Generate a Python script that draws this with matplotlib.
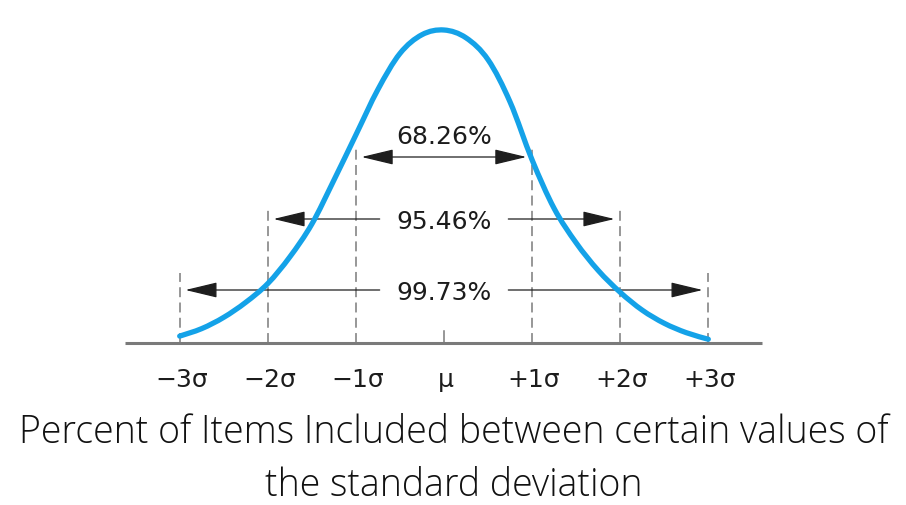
import matplotlib
matplotlib.use("Agg")
import matplotlib.pyplot as plt
from matplotlib.patches import FancyArrowPatch, PathPatch
from matplotlib.path import Path

# ---------------- data ----------------
# curve positions (in sigma units) and relative heights
curve_x = [-3.0, -2.75, -2.5, -2.25, -2.0, -1.75, -1.5, -1.25, -1.0, -0.75, -0.5, -0.25,
           0.0, 0.25, 0.5, 0.75, 1.0, 1.25, 1.5, 1.75, 2.0, 2.25, 2.5, 2.75, 3.0]
curve_h = [0.022, 0.046, 0.082, 0.13, 0.19, 0.275, 0.38, 0.52, 0.665, 0.81, 0.925, 0.985,
           1.0, 0.975, 0.905, 0.77, 0.585, 0.43, 0.32, 0.232, 0.162, 0.105, 0.063, 0.033, 0.012]

tick_positions = [-3, -2, -1, 0, 1, 2, 3]
tick_labels = ["\u22123\u03c3", "\u22122\u03c3", "\u22121\u03c3", "\u03bc", "+1\u03c3", "+2\u03c3", "+3\u03c3"]

band_k = [1, 2, 3]                       # +/- k sigma
band_labels = ["68.26%", "95.46%", "99.73%"]

caption_lines = ["Percent of Items Included between certain values of",
                 "the standard deviation"]

# ---------------- figure ----------------
W, H = 906, 505
fig = plt.figure(figsize=(W / 100, H / 100), dpi=100)
ax = fig.add_axes([0, 0, 1, 1])
ax.set_axis_off()

px_per_sigma = 88.1
x0_px = 444.0
base_px = 343.0
peak_px = 313.0
ax.set_xlim(-x0_px / px_per_sigma, (W - x0_px) / px_per_sigma)
ax.set_ylim((base_px - H) / peak_px, base_px / peak_px)

def hy(ypx):
    return (base_px - ypx) / peak_px

line_col = "#7a7a7a"
txt_col = "#1c1c1c"
arr_col = "#1e1e1e"
blue = "#14a2e8"

# baseline
ax.plot([-3.62, 3.61], [0, 0], color=line_col, lw=2.2, solid_capstyle="butt", zorder=1)

# dashed verticals
dash_top = {1: hy(148), 2: hy(207), 3: hy(273)}
for k in band_k:
    for s in (-1, 1):
        ax.plot([s * k, s * k], [0, dash_top[k]], color=line_col, lw=1.1,
                linestyle=(0, (6.5, 3.5)), zorder=1)
# mu tick
ax.plot([0, 0], [0, hy(331)], color=line_col, lw=1.1, zorder=1)

# arrows
row_y = {1: hy(157), 2: hy(219), 3: hy(290)}
label_base = {1: hy(143.5), 2: hy(229), 3: hy(300)}
tip_gap = 0.065
text_gap = 0.73
style = "-|>,head_length=1.0,head_width=0.24"

def arrow(xa, xb, y, st=style):
    p = FancyArrowPatch((xa, y), (xb, y), arrowstyle=st, mutation_scale=20,
                        color=arr_col, lw=0.9, shrinkA=0, shrinkB=0, zorder=2)
    ax.add_patch(p)

for k, lab in zip(band_k, band_labels):
    y = row_y[k]
    tip = k - tip_gap
    if k == 1:
        arrow(-tip, tip, y, "<|-|>,head_length=1.0,head_width=0.24")
    else:
        arrow(-text_gap, -tip, y)
        arrow(text_gap, tip, y)
    ax.text(0, label_base[k], lab, ha="center", va="baseline", fontsize=18,
            color=txt_col, family="DejaVu Sans")

# curve: smooth cubic Bezier path through the read points (Catmull-Rom tangents)
n = len(curve_x)
verts = [(curve_x[0], curve_h[0])]
codes = [Path.MOVETO]
for i in range(n - 1):
    xa, ya = curve_x[i], curve_h[i]
    xb, yb = curve_x[i + 1], curve_h[i + 1]
    xp, yp = (curve_x[i - 1], curve_h[i - 1]) if i > 0 else (xa, ya)
    xn, yn = (curve_x[i + 2], curve_h[i + 2]) if i + 2 < n else (xb, yb)
    c1 = (xa + (xb - xp) / 6.0, ya + (yb - yp) / 6.0)
    c2 = (xb - (xn - xa) / 6.0, yb - (yn - ya) / 6.0)
    verts += [c1, c2, (xb, yb)]
    codes += [Path.CURVE4, Path.CURVE4, Path.CURVE4]
ax.add_patch(PathPatch(Path(verts, codes), facecolor="none", edgecolor=blue, lw=3.8,
                       capstyle="round", joinstyle="round", zorder=3))

# tick labels
for x, lab in zip(tick_positions, tick_labels):
    ax.text(x + 0.02, hy(386.7), lab, ha="center", va="baseline", fontsize=18,
            color=txt_col, family="DejaVu Sans")

# caption
fig.text(0.501, 1 - 443.3 / H, caption_lines[0], ha="center", va="baseline",
         fontsize=27, color="#111111", family="Open Sans", weight="light")
fig.text(0.501, 1 - 495.5 / H, caption_lines[1], ha="center", va="baseline",
         fontsize=27, color="#111111", family="Open Sans", weight="light")

fig.savefig("out.png", dpi=100, facecolor="white")
